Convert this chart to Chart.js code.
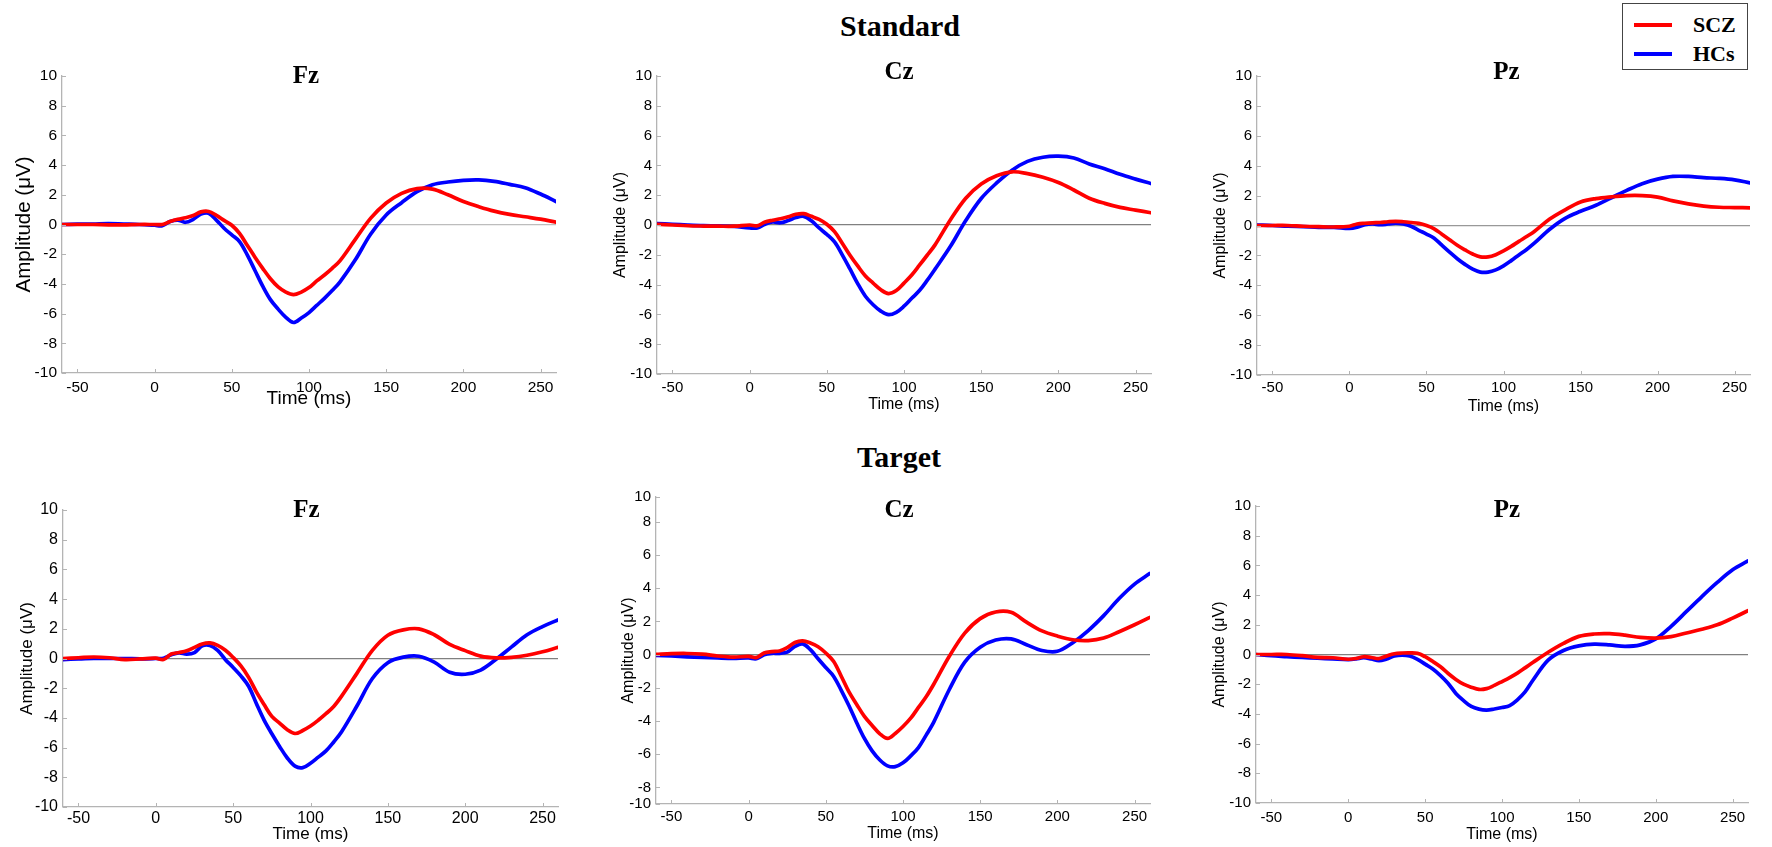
<!DOCTYPE html>
<html>
<head>
<meta charset="utf-8">
<title>ERP waveforms</title>
<script src="https://cdn.jsdelivr.net/npm/chart.js@4.4.1/dist/chart.umd.min.js"></script>
<style>
  html, body { margin: 0; padding: 0; background: #fff; overflow: hidden; }
  #fig { position: relative; width: 1772px; height: 847px; }
  #fig canvas { position: absolute; }
  .heading {
    position: absolute; transform: translate(-50%, -50%); white-space: nowrap;
    font-family: "Liberation Serif", "DejaVu Serif", serif; font-weight: bold; font-size: 30px; color: #000;
  }
  #legend {
    position: absolute; left: 1622px; top: 3px; width: 124px; height: 65px;
    border: 1px solid #444; background: #fff;
  }
  #legend .swatch { position: absolute; left: 11px; width: 38px; height: 4px; }
  #legend .label {
    position: absolute; left: 70px; transform: translateY(-50%);
    font-family: "Liberation Serif", serif; font-weight: bold; font-size: 22px;
  }
</style>
</head>
<body>
<div id="fig">
  <div class="heading" style="left:900px; top:26px;">Standard</div>
  <div class="heading" style="left:899px; top:457px;">Target</div>
  <div id="legend">
    <div class="swatch" style="top:19px; background:#ff0000;"></div>
    <div class="label" style="top:21px;">SCZ</div>
    <div class="swatch" style="top:48px; background:#0000ff;"></div>
    <div class="label" style="top:50px;">HCs</div>
  </div>
</div>
<script>
// time axis (ms) and tick labels
const times = [-60, -50, -40, -30, -20, -10,
  0, 5, 10, 15, 20, 25, 30, 35, 40, 45, 50, 55, 60, 65, 70, 75, 80, 85, 90, 95, 100, 105, 110, 115, 120,
  130, 140, 150, 160, 170, 180, 190, 200, 210, 220, 230, 240, 250, 260];
const xTickValues = [-50, 0, 50, 100, 150, 200, 250];
const yTickValues = [-10, -8, -6, -4, -2, 0, 2, 4, 6, 8, 10];
// the Cz target axis in the figure is squeezed at both ends
const czTargetTickValues = [-9, -8, -6, -4, -2, 0, 2, 4, 6, 8, 9.5];
const czTargetTickLabels = ['-10', '-8', '-6', '-4', '-2', '0', '2', '4', '6', '8', '10'];

const groupNames = ['SCZ', 'HCs'];

// Standard
const stdFzScz = [0, 0, 0, -0.02, -0.03, 0,
  0, 0, 0.2, 0.35, 0.45, 0.6, 0.85, 0.88, 0.62, 0.28, -0.05, -0.6, -1.4, -2.2, -2.95, -3.65, -4.2, -4.55, -4.72, -4.55, -4.25, -3.8, -3.4, -2.95, -2.45,
  -1.0, 0.43, 1.45, 2.1, 2.42, 2.38, 2.0, 1.55, 1.2, 0.9, 0.68, 0.52, 0.36, 0.16];
const stdFzHc = [0, 0.02, 0.03, 0.06, 0.03, 0,
  -0.05, -0.08, 0.2, 0.3, 0.15, 0.35, 0.7, 0.75, 0.3, -0.25, -0.7, -1.15, -2.05, -3.1, -4.15, -5.06, -5.7, -6.25, -6.6, -6.3, -5.93, -5.45, -4.97, -4.45, -3.88,
  -2.38, -0.64, 0.64, 1.47, 2.21, 2.68, 2.86, 2.97, 3.0, 2.9, 2.7, 2.48, 2.05, 1.55];
const stdCzScz = [0.05, 0, -0.05, -0.07, -0.08, -0.08,
  0, -0.05, 0.2, 0.32, 0.42, 0.55, 0.72, 0.76, 0.58, 0.38, 0.05, -0.45, -1.22, -2.03, -2.75, -3.42, -3.9, -4.35, -4.6, -4.4, -3.9, -3.36, -2.7, -2.03, -1.35,
  0.34, 1.8, 2.75, 3.3, 3.57, 3.45, 3.2, 2.85, 2.35, 1.8, 1.45, 1.18, 1.0, 0.82];
const stdCzHc = [0.1, 0.05, 0, -0.04, -0.06, -0.1,
  -0.2, -0.2, 0.05, 0.2, 0.15, 0.3, 0.5, 0.58, 0.28, -0.2, -0.63, -1.14, -2.0, -2.95, -3.93, -4.78, -5.35, -5.78, -6.02, -5.86, -5.45, -4.92, -4.4, -3.72, -2.98,
  -1.45, 0.3, 1.78, 2.82, 3.68, 4.27, 4.55, 4.62, 4.5, 4.1, 3.78, 3.4, 3.08, 2.78];
const stdPzScz = [0, 0, 0, -0.05, -0.08, -0.1,
  -0.05, 0.1, 0.15, 0.18, 0.2, 0.25, 0.28, 0.25, 0.2, 0.14, 0, -0.22, -0.58, -0.95, -1.32, -1.63, -1.91, -2.1, -2.1, -1.95, -1.7, -1.4, -1.06, -0.74, -0.4,
  0.43, 1.05, 1.57, 1.8, 1.92, 2.0, 2.0, 1.9, 1.65, 1.45, 1.3, 1.22, 1.2, 1.18];
const stdPzHc = [0.03, 0, -0.05, -0.08, -0.12, -0.13,
  -0.2, -0.12, 0.05, 0.1, 0.05, 0.1, 0.16, 0.1, -0.05, -0.32, -0.57, -0.85, -1.32, -1.78, -2.22, -2.6, -2.92, -3.12, -3.12, -2.97, -2.7, -2.35, -1.97, -1.6, -1.18,
  -0.25, 0.48, 0.95, 1.35, 1.85, 2.35, 2.8, 3.1, 3.28, 3.28, 3.2, 3.15, 3.05, 2.85];

// Target
const tgtFzScz = [0, 0.05, 0.1, 0.05, -0.07, -0.03,
  0.02, -0.07, 0.3, 0.4, 0.52, 0.75, 0.98, 1.05, 0.88, 0.55, 0.07, -0.5, -1.27, -2.25, -3.1, -3.9, -4.35, -4.8, -5.05, -4.85, -4.55, -4.16, -3.72, -3.23, -2.55,
  -1.0, 0.55, 1.57, 1.93, 2.0, 1.6, 0.95, 0.53, 0.16, 0.04, 0.08, 0.22, 0.45, 0.75];
const tgtFzHc = [-0.07, -0.03, 0, 0, 0, -0.02,
  0, 0.02, 0.25, 0.38, 0.3, 0.4, 0.85, 0.88, 0.54, -0.08, -0.6, -1.17, -1.87, -3.03, -4.15, -5.07, -5.92, -6.7, -7.25, -7.35, -7.05, -6.64, -6.22, -5.62, -4.95,
  -3.2, -1.35, -0.28, 0.09, 0.15, -0.25, -0.93, -1.06, -0.78, -0.05, 0.78, 1.6, 2.15, 2.6];
const tgtCzScz = [0.02, 0.06, 0.07, 0.03, -0.08, -0.15,
  -0.1, -0.18, 0.1, 0.18, 0.22, 0.42, 0.73, 0.83, 0.7, 0.48, 0.1, -0.4, -1.3, -2.25, -3.0, -3.72, -4.27, -4.77, -5.05, -4.75, -4.33, -3.83, -3.18, -2.54, -1.77,
  -0.1, 1.3, 2.17, 2.57, 2.55, 1.96, 1.43, 1.12, 0.9, 0.85, 1.0, 1.38, 1.8, 2.25];
const tgtCzHc = [-0.04, -0.08, -0.13, -0.17, -0.2, -0.22,
  -0.2, -0.25, 0, 0.08, 0.08, 0.15, 0.5, 0.65, 0.3, -0.25, -0.78, -1.3, -2.15, -3.08, -4.1, -5.05, -5.8, -6.35, -6.7, -6.75, -6.52, -6.1, -5.6, -4.85, -4.05,
  -2.1, -0.45, 0.45, 0.88, 0.95, 0.6, 0.25, 0.2, 0.72, 1.45, 2.35, 3.38, 4.25, 4.9];
const tgtPzScz = [0, 0, 0, -0.08, -0.2, -0.22,
  -0.32, -0.27, -0.15, -0.2, -0.27, -0.1, 0.05, 0.1, 0.11, 0.08, -0.15, -0.47, -0.83, -1.28, -1.68, -2.0, -2.2, -2.35, -2.3, -2.08, -1.82, -1.55, -1.25, -0.9, -0.54,
  0.15, 0.75, 1.22, 1.38, 1.4, 1.3, 1.15, 1.1, 1.2, 1.45, 1.7, 2.0, 2.45, 2.95];
const tgtPzHc = [0, -0.08, -0.14, -0.2, -0.25, -0.3,
  -0.34, -0.3, -0.22, -0.3, -0.42, -0.3, -0.1, -0.04, -0.1, -0.33, -0.65, -0.98, -1.42, -1.95, -2.62, -3.1, -3.5, -3.68, -3.74, -3.67, -3.57, -3.44, -3.05, -2.52, -1.75,
  -0.38, 0.27, 0.58, 0.7, 0.65, 0.55, 0.65, 1.05, 1.9, 2.9, 3.9, 4.85, 5.7, 6.3];

// plot boxes [left, top, right, bottom] and per-panel text tweaks
const panels = [
  { title: 'Fz', scz: stdFzScz, hc: stdFzHc, box: [62, 76, 556, 373], tdx: -3, tdy: 1,
    yt: 20.5, ytPad: 9.7, xt: 19, xtPad: 7, tick: 15.5, xTickPad: 5, zero: '#bdbdbd' },
  { title: 'Cz', scz: stdCzScz, hc: stdCzHc, box: [657, 76, 1151, 374], tdx: -5, tdy: -3,
    yt: 16, ytPad: 14.4, xt: 16, xtPad: 3.4, tick: 15, xTickPad: 5, zero: '#808080' },
  { title: 'Pz', scz: stdPzScz, hc: stdPzHc, box: [1257, 76, 1750, 375], tdx: 3, tdy: -3,
    yt: 16, ytPad: 14.4, xt: 16, xtPad: 2.4, tick: 15, xTickPad: 4, zero: '#999999' },
  { title: 'Fz', scz: tgtFzScz, hc: tgtFzHc, box: [63, 510, 558, 807], tdx: -4, tdy: 1,
    yt: 17, ytPad: 13.8, xt: 17, xtPad: 6.2, tick: 16, xTickPad: 2, zero: '#808080' },
  { title: 'Cz', scz: tgtCzScz, hc: tgtCzHc, box: [656, 497, 1150, 804], tdx: -4, tdy: 14,
    yt: 16, ytPad: 23.4, xt: 16, xtPad: 4.4, tick: 15, xTickPad: 4, zero: '#808080', squeezed: true },
  { title: 'Pz', scz: tgtPzScz, hc: tgtPzHc, box: [1256, 506, 1748, 803], tdx: 5, tdy: 5,
    yt: 16, ytPad: 14.4, xt: 16, xtPad: 3, tick: 15, xTickPad: 5.8, zero: '#808080' }
];

const Y_W = 60, PAD_TOP = 50, PAD_RIGHT = 16, X_H = 44;
const AXIS_GREY = '#b4b4b4';
const SANS = '"Liberation Sans", Arial, sans-serif';

// inward tick marks + electrode label inside the plot
const panelDecor = {
  id: 'panelDecor',
  afterDraw(chart, args, opts) {
    const { ctx, chartArea: a, scales: { x, y } } = chart;
    ctx.save();
    ctx.strokeStyle = AXIS_GREY;
    ctx.lineWidth = 1;
    ctx.beginPath();
    x.ticks.forEach(t => {
      const px = Math.round(x.getPixelForValue(t.value)) + 0.5;
      ctx.moveTo(px, a.bottom); ctx.lineTo(px, a.bottom - 4);
    });
    y.ticks.forEach(t => {
      const py = Math.round(y.getPixelForValue(t.value)) + 0.5;
      ctx.moveTo(a.left, py); ctx.lineTo(a.left + 4, py);
    });
    ctx.stroke();
    ctx.fillStyle = '#000';
    ctx.font = 'bold 25px "Liberation Serif", serif';
    ctx.textAlign = 'center';
    ctx.textBaseline = 'middle';
    ctx.fillText(opts.text, (a.left + a.right) / 2 + opts.dx, a.top + opts.dy);
    ctx.restore();
  }
};

const fig = document.getElementById('fig');

panels.forEach(p => {
  const [l, t, r, b] = p.box;
  const canvas = document.createElement('canvas');
  canvas.width = r - l + Y_W + PAD_RIGHT;
  canvas.height = b - t + PAD_TOP + X_H;
  canvas.style.left = (l - Y_W) + 'px';
  canvas.style.top = (t - PAD_TOP) + 'px';
  fig.appendChild(canvas);

  const yVals = p.squeezed ? czTargetTickValues : yTickValues;

  new Chart(canvas, {
    type: 'line',
    data: {
      datasets: [
        { label: groupNames[0], data: times.map((tm, i) => ({ x: tm, y: p.scz[i] })),
          borderColor: '#ff0000', borderWidth: 3.7, pointRadius: 0, tension: 0.35,
          borderCapStyle: 'round', borderJoinStyle: 'round' },
        { label: groupNames[1], data: times.map((tm, i) => ({ x: tm, y: p.hc[i] })),
          borderColor: '#0000ff', borderWidth: 3.7, pointRadius: 0, tension: 0.35,
          borderCapStyle: 'round', borderJoinStyle: 'round' }
      ]
    },
    options: {
      responsive: false,
      animation: false,
      events: [],
      layout: { padding: { top: PAD_TOP, right: PAD_RIGHT, left: 0, bottom: 0 } },
      plugins: {
        legend: { display: false },
        tooltip: { enabled: false },
        panelDecor: { text: p.title, dx: p.tdx, dy: p.tdy }
      },
      scales: {
        x: {
          type: 'linear',
          min: -60, max: 260,
          afterBuildTicks: s => { s.ticks = xTickValues.map(v => ({ value: v })); },
          afterFit: s => { s.height = X_H; },
          grid: { display: false, drawTicks: false },
          border: { display: true, color: AXIS_GREY, width: 1.3 },
          ticks: { color: '#000', padding: p.xTickPad, maxRotation: 0, autoSkip: false,
                   font: { family: SANS, size: p.tick }, callback: v => String(v) },
          title: { display: true, text: 'Time (ms)', color: '#000',
                   font: { family: SANS, size: p.xt }, padding: { top: 0, bottom: p.xtPad } }
        },
        y: {
          min: yVals[0], max: yVals[yVals.length - 1],
          afterBuildTicks: s => { s.ticks = yVals.map(v => ({ value: v })); },
          afterFit: s => { s.width = Y_W; },
          grid: { drawTicks: false, lineWidth: 1.2,
                  color: c => (c.tick && c.tick.value === 0 ? p.zero : 'rgba(0,0,0,0)') },
          border: { display: true, color: AXIS_GREY, width: 1.3 },
          ticks: { color: '#000', padding: 5, autoSkip: false,
                   font: { family: SANS, size: p.tick },
                   callback: (v, i) => (p.squeezed ? czTargetTickLabels[i] : String(v)) },
          title: { display: true, text: 'Amplitude (μV)', color: '#000',
                   font: { family: SANS, size: p.yt }, padding: { top: p.ytPad, bottom: 0 } }
        }
      }
    },
    plugins: [panelDecor]
  });
});
</script>
</body>
</html>
